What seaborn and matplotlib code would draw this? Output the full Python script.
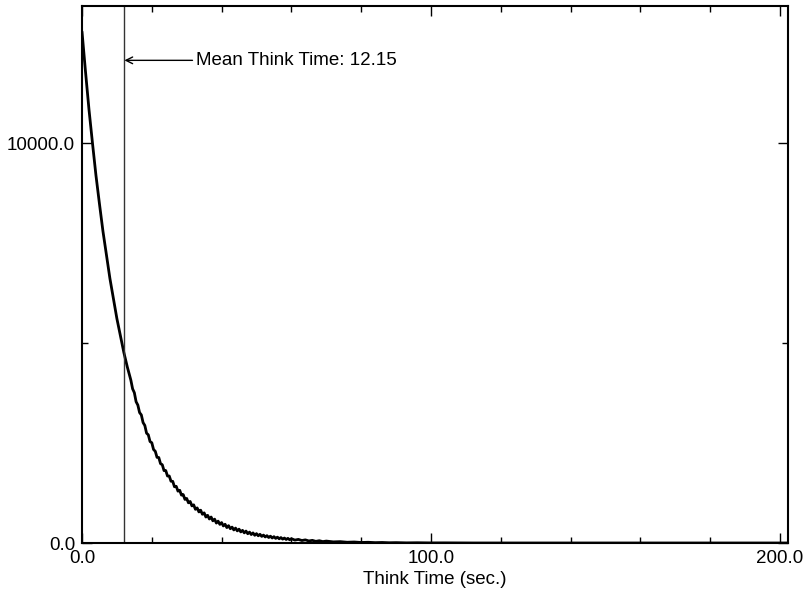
import matplotlib
matplotlib.use("Agg")
import matplotlib.pyplot as plt
from matplotlib.ticker import FixedLocator, MultipleLocator, FixedFormatter
import seaborn as sns
import pandas as pd

# Histogram of think times: bin position (sec.) and count per bin
think_time = [0, 1, 2, 3, 4, 5, 6, 7, 8, 9, 10, 11, 12, 13,
              14, 14.5, 15, 15.5, 16, 16.5, 17, 17.5, 18, 18.5, 19, 19.5,
              20, 20.5, 21, 21.5, 22, 22.5, 23, 23.5, 24, 24.5,
              25, 25.5, 26, 26.5, 27, 27.5, 28, 28.5, 29, 29.5,
              30, 30.5, 31, 31.5, 32, 32.5, 33, 33.5, 34, 34.5,
              35, 35.5, 36, 36.5, 37, 37.5, 38, 38.5, 39, 39.5,
              40, 40.5, 41, 41.5, 42, 42.5, 43, 43.5, 44, 44.5,
              45, 45.5, 46, 46.5, 47, 47.5, 48, 48.5, 49, 49.5,
              50, 50.5, 51, 51.5, 52, 52.5, 53, 53.5, 54, 54.5,
              55, 55.5, 56, 56.5, 57, 57.5, 58, 58.5, 59, 59.5,
              60, 61, 62, 63, 64, 65, 66, 67, 68, 69,
              70, 72, 74, 76, 78, 80, 82, 84, 86, 88,
              90, 93, 96, 100, 104, 108, 112, 202]
counts = [12800, 11800, 10850, 10010, 9200, 8490, 7805, 7205, 6620, 6110, 5615, 5185, 4765, 4400,
          4076, 3858, 3762, 3536, 3452, 3264, 3206, 3014, 2942, 2749, 2707, 2538,
          2510, 2340, 2295, 2143, 2140, 1985, 1960, 1812, 1813, 1676,
          1677, 1546, 1543, 1407, 1419, 1298, 1319, 1198, 1213, 1091,
          1115, 1006, 1039, 929, 955, 843, 878, 778, 821, 719,
          754, 650, 692, 601, 650, 555, 597, 499, 547, 466,
          511, 427, 469, 386, 434, 358, 397, 327, 373, 304,
          346, 278, 316, 254, 298, 232, 272, 212, 252, 193,
          234, 180, 218, 165, 198, 151, 184, 137, 171, 125,
          159, 115, 146, 105, 136, 97, 124, 88, 116, 81,
          107, 73, 90, 62, 78, 51, 66, 41, 57, 35,
          48, 28, 34, 19, 25, 13, 18, 9, 13, 6,
          9, 3, 6, 2, 3, 1, 0, 0]

mean_think = 12.15
x_major = [0, 100, 200]
x_labels = ["0.0", "100.0", "200.0"]
y_major = [0, 10000]
y_labels = ["0.0", "10000.0"]

sns.set_theme(style="ticks")
plt.rcParams["font.family"] = ["Liberation Sans", "DejaVu Sans"]

df = pd.DataFrame({"Think Time (sec.)": think_time, "Count": counts})

fig = plt.figure(figsize=(8.07, 5.97), dpi=100)
ax = fig.add_axes([82 / 807, 54 / 597, 706 / 807, 537 / 597])

sns.lineplot(data=df, x="Think Time (sec.)", y="Count", ax=ax,
             color="black", linewidth=2.0, estimator=None)

ax.axvline(mean_think, color="#333333", linewidth=1.0)
ax.annotate(f"Mean Think Time: {mean_think:.2f}",
            xy=(mean_think, 12080), xytext=(32.6, 12080),
            fontsize=13.5, color="black", va="center", ha="left",
            arrowprops=dict(arrowstyle="->", color="black", lw=1.0,
                            shrinkA=0, shrinkB=0, relpos=(0, 0.5),
                            mutation_scale=12))

ax.set_xlim(0, 202.3)
ax.set_ylim(0, 13440)

ax.xaxis.set_major_locator(FixedLocator(x_major))
ax.xaxis.set_major_formatter(FixedFormatter(x_labels))
ax.xaxis.set_minor_locator(MultipleLocator(20))
ax.yaxis.set_major_locator(FixedLocator(y_major))
ax.yaxis.set_major_formatter(FixedFormatter(y_labels))
ax.yaxis.set_minor_locator(MultipleLocator(5000))

ax.tick_params(which="both", direction="in", top=True, right=True,
               labelsize=13.5, color="black", labelcolor="black", width=1.0)
ax.tick_params(which="major", length=7, pad=5)
ax.tick_params(which="minor", length=4)

ax.set_xlabel("Think Time (sec.)", fontsize=13.5, color="black", labelpad=3)
ax.set_ylabel("")

for side in ["left", "bottom", "top", "right"]:
    ax.spines[side].set_visible(True)
    ax.spines[side].set_color("black")
    ax.spines[side].set_linewidth(1.5)

fig.savefig("out.png", dpi=100, facecolor="white")
